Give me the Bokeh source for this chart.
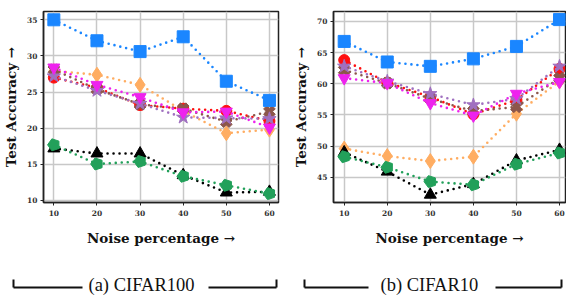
import math
from bokeh.plotting import figure
from bokeh.layouts import row, column
from bokeh.models import FixedTicker
from bokeh.core.properties import value
from bokeh.embed import file_html
from bokeh.resources import INLINE

noise = [10, 20, 30, 40, 50, 60]

# CIFAR100
c100_blue = [35.0, 32.1, 30.6, 32.65, 26.5, 23.85]
c100_red = [27.0, 25.6, 23.2, 22.7, 22.4, 21.0]
c100_brown = [28.1, 25.4, 23.3, 22.7, 20.9, 22.3]
c100_magenta = [28.4, 26.0, 24.3, 22.2, 22.3, 20.1]
c100_purple = [27.2, 25.2, 23.4, 21.5, 21.4, 21.3]
c100_orange = [27.9, 27.4, 26.0, 22.4, 19.3, 19.8]
c100_black = [17.2, 16.5, 16.5, 13.5, 11.1, 11.2]
c100_green = [17.7, 15.05, 15.4, 13.35, 12.1, 10.95]

# CIFAR10
c10_blue = [66.8, 63.5, 62.8, 64.0, 66.0, 70.3]
c10_red = [63.8, 60.2, 57.9, 55.1, 57.4, 62.4]
c10_brown = [62.2, 60.1, 57.6, 55.6, 56.3, 60.9]
c10_magenta = [60.9, 60.1, 56.9, 54.9, 58.4, 60.3]
c10_purple = [62.8, 60.4, 58.4, 56.6, 57.6, 62.8]
c10_orange = [49.6, 48.4, 47.6, 48.3, 55.2, 60.4]
c10_black = [49.0, 45.9, 42.2, 43.9, 47.7, 49.4]
c10_green = [48.3, 46.6, 44.3, 43.8, 47.1, 48.9]

x_ticks = [10, 20, 30, 40, 50, 60]
y_ticks_c100 = [10, 15, 20, 25, 30, 35]
y_ticks_c10 = [45, 50, 55, 60, 65, 70]

captions = ["(a) CIFAR100", "(b) CIFAR10"]

LABEL_FONT = "DejaVu Serif"
CAP_FONT = "Liberation Serif"

def make_fig(width, border_left, border_right, x_rng, y_rng, yticks, series):
    p = figure(width=width, height=262, x_range=x_rng, y_range=y_rng,
               output_backend="svg", toolbar_location=None,
               min_border_left=border_left, min_border_right=border_right,
               min_border_top=11, min_border_bottom=60)
    p.outline_line_color = "#222222"
    p.outline_line_width = 1.5
    p.background_fill_color = "white"
    for g in (p.xgrid, p.ygrid):
        g.grid_line_color = "#c8c8c8"
        g.grid_line_width = 1.5
    p.xaxis.ticker = FixedTicker(ticks=x_ticks)
    p.yaxis.ticker = FixedTicker(ticks=yticks)
    for ax in (p.xaxis, p.yaxis):
        ax.axis_line_color = "#222222"
        ax.axis_line_width = 1.5
        ax.major_tick_line_color = "#222222"
        ax.major_tick_line_width = 1
        ax.major_tick_out = 3
        ax.major_tick_in = 0
        ax.minor_tick_line_color = None
        ax.major_label_text_font = LABEL_FONT
        ax.major_label_text_font_style = "bold"
        ax.major_label_text_font_size = "7.5px"
        ax.major_label_text_color = "#333333"
        ax.axis_label_text_font = LABEL_FONT
        ax.axis_label_text_font_style = "bold"
        ax.axis_label_text_font_size = "13.5px"
        ax.axis_label_text_color = "#111111"
    p.xaxis.major_label_standoff = 4
    p.yaxis.major_label_standoff = 3
    p.xaxis.axis_label = "Noise percentage \u2192"
    p.yaxis.axis_label = "Test Accuracy \u2192"
    p.xaxis.axis_label_standoff = 11
    p.yaxis.axis_label_standoff = 5

    for vals, color, marker, size, angle in series:
        p.line(noise, vals, line_color=color, line_width=2.6,
               line_dash="0 6", line_cap="round")
        if marker == "pentagon":
            p.ngon(noise, vals, radius=6.3, radius_units="screen", n=5,
                   angle=math.pi / 2, fill_color=color, line_color=color)
        else:
            p.scatter(noise, vals, marker=marker, size=size, angle=angle,
                      fill_color=color, line_color=color)
    return p

BLUE = "#1a86ff"
RED = "#ff1010"
BROWN = "#8c564b"
MAGENTA = "#ee22ee"
PURPLE = "#a070c0"
ORANGE = "#ffad62"
BLACK = "#000000"
GREEN = "#22a05a"

s100 = [
    (c100_orange, ORANGE, "diamond", 15, 0),
    (c100_black, BLACK, "triangle", 12, 0),
    (c100_green, GREEN, "pentagon", 0, 0),
    (c100_red, RED, "circle", 11, 0),
    (c100_brown, BROWN, "plus", 12, math.pi / 4),
    (c100_purple, PURPLE, "star", 14, 0),
    (c100_magenta, MAGENTA, "inverted_triangle", 12, 0),
    (c100_blue, BLUE, "square", 12, 0),
]
s10 = [
    (c10_orange, ORANGE, "diamond", 15, 0),
    (c10_black, BLACK, "triangle", 12, 0),
    (c10_green, GREEN, "pentagon", 0, 0),
    (c10_red, RED, "circle", 11, 0),
    (c10_brown, BROWN, "plus", 12, math.pi / 4),
    (c10_purple, PURPLE, "star", 14, 0),
    (c10_magenta, MAGENTA, "inverted_triangle", 12, 0),
    (c10_blue, BLUE, "square", 12, 0),
]

p1 = make_fig(283, 43, 5, (7.6, 62.1), (9.72, 36.15), y_ticks_c100, s100)
p2 = make_fig(283, 50, 1, (7.515, 61.39), (40.95, 71.6), y_ticks_c10, s10)

def caption(width, text, l0, l1, tx, r0, r1):
    # a caption strip in pixel units: bracket line, text, bracket line
    c = figure(width=width, height=33, x_range=(0, width), y_range=(0, 33),
               output_backend="svg", toolbar_location=None,
               x_axis_type=None, y_axis_type=None, min_border=0)
    c.outline_line_color = None
    c.grid.visible = False
    base = 8
    c.segment(x0=[l0, r0, l0, r1], y0=[base, base, base, base],
              x1=[l1, r1, l0, r1], y1=[base, base, base + 8, base + 8],
              line_color="#111111", line_width=2)
    c.text(x=[tx], y=[base + 3], text=[text], text_font=value(CAP_FONT),
           text_font_size="18.5px", text_baseline="alphabetic",
           text_align="left", text_color="#111111")
    return c

c1 = caption(283, captions[0], 13, 82, 88, 208, 276)
c2 = caption(283, captions[1], 21, 85, 97, 212, 278)

layout = column(row(p1, p2, spacing=0), row(c1, c2, spacing=0), spacing=0)
open("out.html", "w").write(file_html(layout, INLINE))
